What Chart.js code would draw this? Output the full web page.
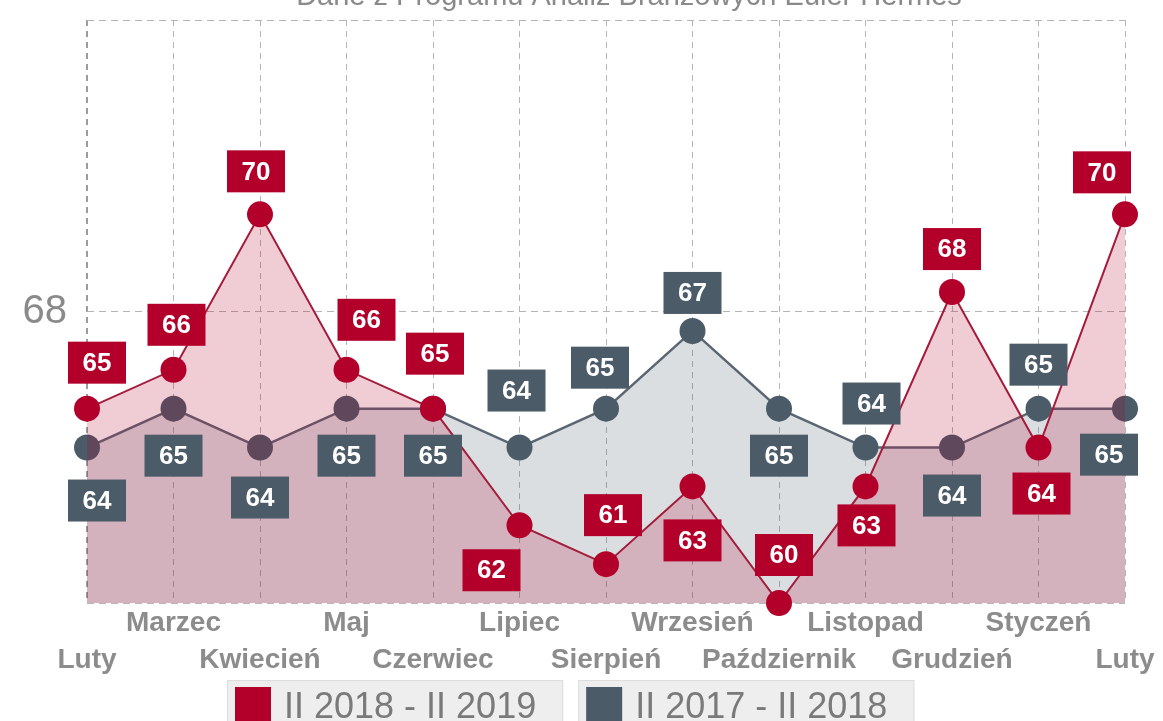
<!DOCTYPE html>
<html>
<head>
<meta charset="utf-8">
<script src="https://cdn.jsdelivr.net/npm/chart.js@4.4.1/dist/chart.umd.min.js"></script>
<style>
  html, body { margin: 0; padding: 0; background: #fff; overflow: hidden; width: 1163px; height: 721px; }
  #wrap { position: absolute; left: 0; top: -24px; width: 1163px; height: 757px; }
</style>
</head>
<body>
<div id="wrap"><canvas id="chart"></canvas></div>
<script>
// Values
const months = ['Luty', 'Marzec', 'Kwiecień', 'Maj', 'Czerwiec', 'Lipiec', 'Sierpień',
  'Wrzesień', 'Październik', 'Listopad', 'Grudzień', 'Styczeń', 'Luty'];
const current = [65, 66, 70, 66, 65, 62, 61, 63, 60, 63, 68, 64, 70];   // II 2018 - II 2019
const previous = [64, 65, 64, 65, 65, 64, 65, 67, 65, 64, 64, 65, 65];  // II 2017 - II 2018
const seriesNames = ['II 2018 - II 2019', 'II 2017 - II 2018'];
const yTickValue = 67.5;
const yTickLabel = '68';
const titleText = 'Dane z Programu Analiz Branżowych Euler Hermes';

const FONT = '"Liberation Sans", Arial, sans-serif';
const RED = '#b3002b';
const SLATE = '#4b5b68';

// label box offsets from each point [dx, dy]
const labelOffsets = [
  [[10, -46], [3, -45], [-4, -43], [20, -50], [2, -55], [-28, 45], [7, -49],
   [0, 54], [5, -48], [1, 39], [0, -43], [3, 46], [-23, -42]],
  [[10, 53], [0, 47], [0, 50], [0, 47], [0, 47], [-3, -57], [-6, -41],
   [0, -38], [0, 47], [6, -44], [0, 48], [0, -44], [-16, 46]]
];

const boxLabels = {
  id: 'boxLabels',
  afterDatasetsDraw(chart) {
    const { ctx } = chart;
    ctx.save();
    ctx.font = 'bold 26px ' + FONT;
    ctx.textAlign = 'center';
    ctx.textBaseline = 'middle';
    chart.data.datasets.forEach((ds, di) => {
      chart.getDatasetMeta(di).data.forEach((pt, i) => {
        const [dx, dy] = labelOffsets[di][i];
        const cx = pt.x + dx, cy = pt.y + dy;
        ctx.fillStyle = ds.pointBackgroundColor;
        ctx.fillRect(cx - 29, cy - 21, 58, 42);
        ctx.fillStyle = '#fff';
        ctx.fillText(String(ds.data[i]), cx, cy + 1);
      });
    });
    ctx.restore();
  }
};

// legend row under the axis: grey tiles with a colour square and the series name
const legendRow = {
  id: 'legendRow',
  afterDraw(chart) {
    const { ctx } = chart;
    ctx.save();
    ctx.font = '36px ' + FONT;
    ctx.textAlign = 'left';
    ctx.textBaseline = 'alphabetic';
    const items = chart.data.datasets.map(ds => ({
      text: ds.label,
      color: ds.pointBackgroundColor,
      w: 8 + 36 + 13 + ctx.measureText(ds.label).width + 27,
    }));
    const gap = 15;
    const total = items.reduce((s, it) => s + it.w, 0) + gap * (items.length - 1);
    let x = Math.round(571 - total / 2);
    const top = chart.chartArea.bottom + 77;
    items.forEach(it => {
      ctx.fillStyle = '#eeeeee';
      ctx.fillRect(x, top, it.w, 60);
      ctx.strokeStyle = '#dddddd';
      ctx.lineWidth = 1;
      ctx.strokeRect(x + 0.5, top + 0.5, it.w - 1, 60);
      ctx.fillStyle = it.color;
      ctx.fillRect(x + 8, top + 7, 36, 40);
      ctx.fillStyle = '#7a7a7a';
      ctx.fillText(it.text, x + 57, top + 38);
      x += it.w + gap;
    });
    ctx.restore();
  }
};

const topTitle = {
  id: 'topTitle',
  afterDraw(chart) {
    const { ctx } = chart;
    ctx.save();
    ctx.font = '29px ' + FONT;
    ctx.fillStyle = '#8a8a8a';
    ctx.textAlign = 'center';
    ctx.textBaseline = 'alphabetic';
    ctx.fillText(titleText, 629, 29);
    ctx.restore();
  }
};

new Chart(document.getElementById('chart'), {
  type: 'line',
  data: {
    labels: months,
    datasets: [
      {
        label: seriesNames[0],
        data: current,
        borderColor: '#a41c3b',
        backgroundColor: 'rgba(180, 0, 43, 0.2)',
        borderWidth: 2,
        fill: 'start',
        tension: 0,
        pointRadius: 13,
        pointBackgroundColor: RED,
        pointBorderColor: RED,
        pointBorderWidth: 0,
        clip: false,
      },
      {
        label: seriesNames[1],
        data: previous,
        borderColor: '#5a6772',
        backgroundColor: 'rgba(75, 91, 104, 0.2)',
        borderWidth: 2.5,
        fill: 'start',
        tension: 0,
        pointRadius: 13,
        pointBackgroundColor: SLATE,
        pointBorderColor: SLATE,
        pointBorderWidth: 0,
        clip: false,
      },
    ],
  },
  options: {
    responsive: true,
    maintainAspectRatio: false,
    animation: false,
    events: [],
    layout: { padding: { top: 42, right: 38, left: 0, bottom: 50 } },
    plugins: {
      tooltip: { enabled: false },
      title: { display: false },
      legend: { display: false },
    },
    scales: {
      x: {
        offset: false,
        afterFit: s => { s.height = 80; },
        grid: {
          color: c => (c.index === 0 ? '#9c9c9c' : '#b5b5b5'),
          lineWidth: c => (c.index === 0 ? 2 : 1),
          drawTicks: false,
        },
        border: { display: false, dash: [6, 5] },
        ticks: {
          autoSkip: false,
          maxRotation: 0,
          padding: 2,
          color: '#8c8c8c',
          font: { family: FONT, size: 28, weight: 'bold', lineHeight: '37px' },
          callback: (v, i) => (i % 2 === 1 ? [months[i], ''] : ['', months[i]]),
        },
      },
      y: {
        min: 60,
        max: 75,
        afterBuildTicks: s => { s.ticks = [60, yTickValue, 75].map(v => ({ value: v })); },
        afterFit: s => { s.width = 87; },
        grid: { color: '#b5b5b5', lineWidth: 1, drawTicks: false },
        border: { display: false, dash: [7, 5] },
        ticks: {
          padding: 20,
          color: '#8a8a8a',
          font: { family: FONT, size: 40 },
          callback: v => (v === yTickValue ? yTickLabel : ''),
        },
      },
    },
  },
  plugins: [boxLabels, legendRow, topTitle],
});
</script>
</body>
</html>
